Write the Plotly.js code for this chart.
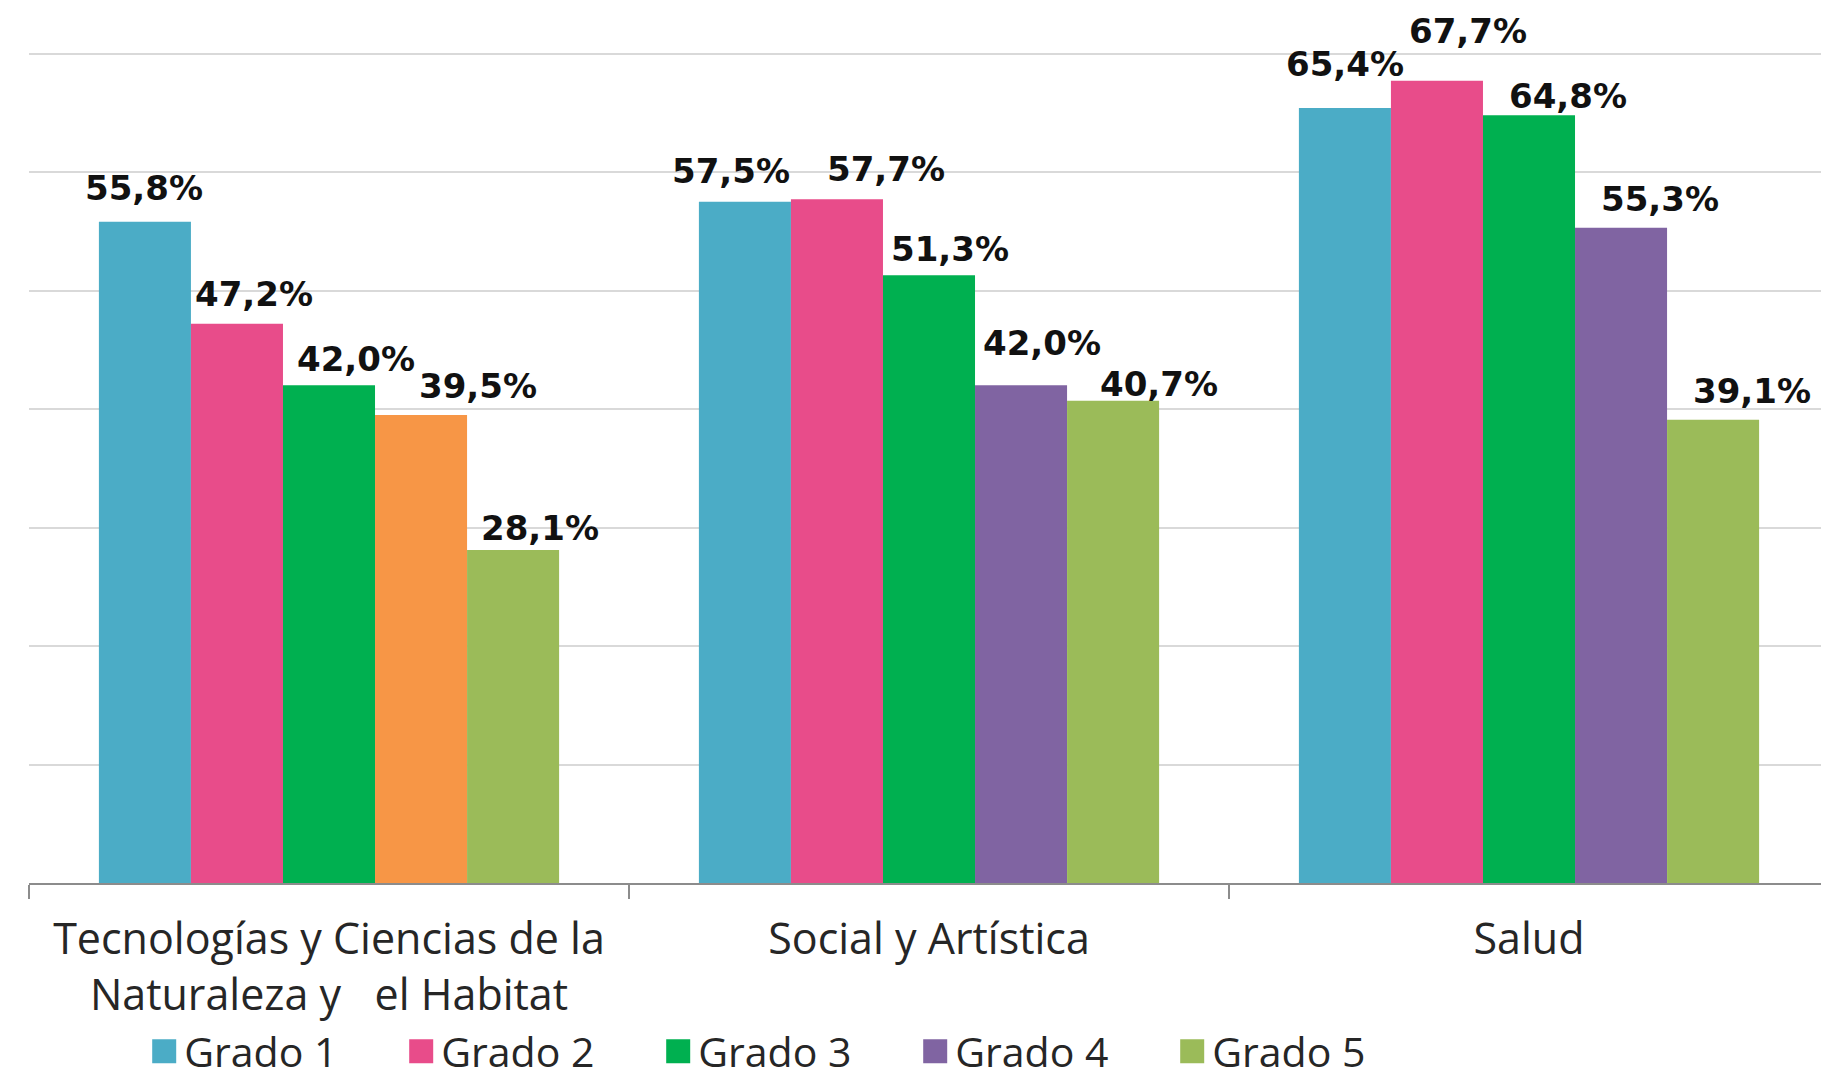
<!DOCTYPE html>
<html>
<head>
<meta charset="utf-8">
<script src="https://cdn.plot.ly/plotly-3.0.1.min.js"></script>
<style>
html, body { margin: 0; padding: 0; overflow: hidden; background: #fff; }
#chart { width: 1830px; height: 1085px; }
</style>
</head>
<body>
<div id="chart"></div>
<script>
// ---- data ----
var categories = [
  'Tecnologías y Ciencias de la<br>Naturaleza y\u00a0\u00a0\u00a0el Habitat',
  'Social y Artística',
  'Salud'
];
var seriesNames = ['Grado 1', 'Grado 2', 'Grado 3', 'Grado 4', 'Grado 5'];
var grado1 = [55.8, 57.5, 65.4];
var grado2 = [47.2, 57.7, 67.7];
var grado3 = [42.0, 51.3, 64.8];
var grado4 = [39.5, 42.0, 55.3];
var grado5 = [28.1, 40.7, 39.1];

// ---- styles ----
var seriesColors = ['#4BACC6', '#E84C8A', '#00B050', '#8064A2', '#9BBB59'];
var grado4PointColors = ['#F79646', '#8064A2', '#8064A2'];
// manual label nudges (px) as in the original, relative to bar top-centre
var labelDx = [[-1, -14, 0], [17, 49, 31], [27, 21, 39], [57, 21, 39], [27, 46, 39]];
var labelDy = [[34, 31, 44], [30, 30, 50], [26, 26, 19], [29, 42, 29], [22, 17, 29]];

var W = 1830, H = 1085;
var margin = {l: 29, r: 1, t: 50, b: 202};
var bargap = 0.233;

var values = [grado1, grado2, grado3, grado4, grado5];
var traces = values.map(function (v, i) {
  return {
    type: 'bar',
    name: seriesNames[i],
    x: categories,
    y: v,
    marker: {color: i === 3 ? grado4PointColors : seriesColors[i], line: {width: 0}},
    hoverinfo: 'none'
  };
});

var plotW = W - margin.l - margin.r;
var barW = plotW / categories.length * (1 - bargap) / values.length;
var annotations = [];
values.forEach(function (v, i) {
  v.forEach(function (val, j) {
    annotations.push({
      x: categories[j], y: val, xref: 'x', yref: 'y',
      text: val.toFixed(1).replace('.', ',') + '%',
      showarrow: false,
      xanchor: 'center', yanchor: 'middle',
      xshift: (i - (values.length - 1) / 2) * barW + labelDx[i][j],
      yshift: labelDy[i][j],
      font: {family: 'DejaVu Sans', size: 34, color: '#111111', weight: 'bold'}
    });
  });
});

var layout = {
  width: W, height: H,
  margin: margin,
  paper_bgcolor: '#ffffff', plot_bgcolor: '#ffffff',
  barmode: 'group',
  bargap: bargap, bargroupgap: 0,
  showlegend: true,
  legend: {
    orientation: 'h', xref: 'paper', x: 0.064, xanchor: 'left',
    yref: 'container', y: 0, yanchor: 'bottom',
    entrywidth: 212, entrywidthmode: 'pixels',
    font: {family: 'Open Sans', size: 41, color: '#262626'},
    bgcolor: 'rgba(0,0,0,0)'
  },
  xaxis: {
    type: 'category',
    showline: true, linecolor: '#8c8c8c', linewidth: 2,
    ticks: 'outside', tickson: 'boundaries', ticklen: 14, tickwidth: 2, tickcolor: '#8c8c8c',
    ticklabelstandoff: 17,
    showgrid: false,
    tickfont: {family: 'Open Sans', size: 43, color: '#262626'},
    fixedrange: true
  },
  yaxis: {
    range: [0, 70.3], dtick: 10,
    showticklabels: false, ticks: '',
    showgrid: true, gridcolor: '#d9d9d9', gridwidth: 2,
    zeroline: false, showline: false,
    fixedrange: true
  },
  annotations: annotations
};

Plotly.newPlot('chart', traces, layout, {displayModeBar: false, staticPlot: true}).then(function (gd) {
  gd.querySelectorAll('.legend .traces').forEach(function (t, idx) {
    t.querySelectorAll('.legendpoints path').forEach(function (p) {
      p.setAttribute('d', 'M12,12H-12V-12H12Z');
      p.style.fill = seriesColors[idx];
    });
  });
});
</script>
</body>
</html>
